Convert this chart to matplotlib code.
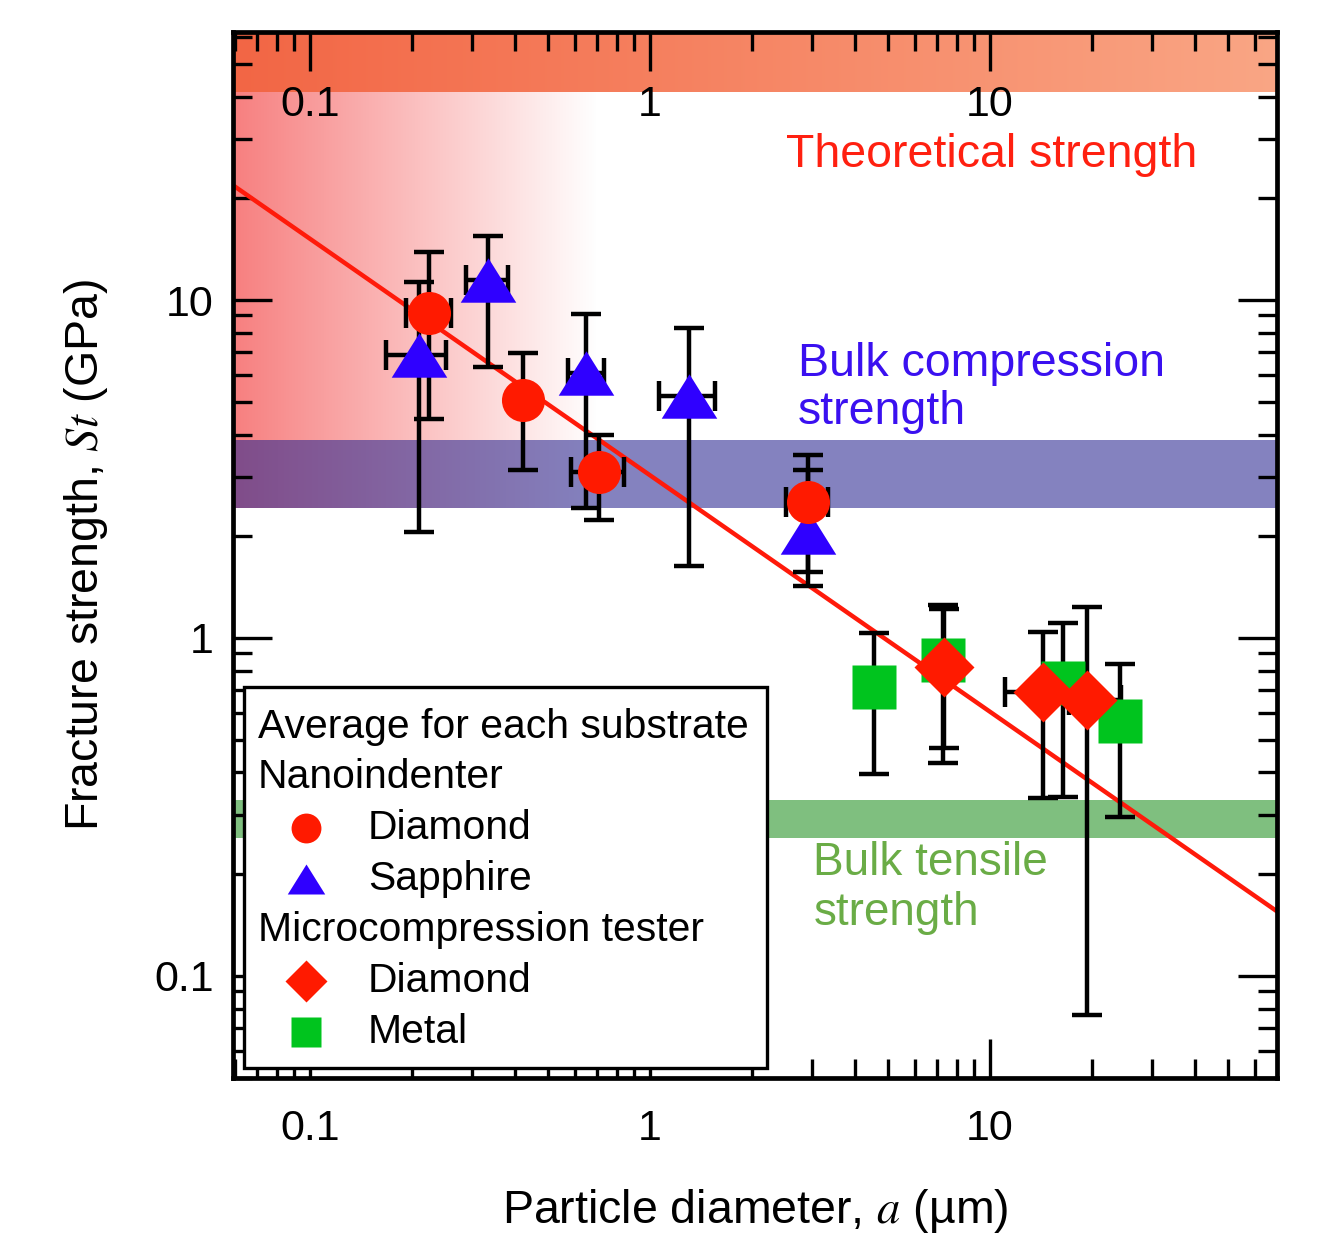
import numpy as np
import matplotlib
matplotlib.use('Agg')
import matplotlib.pyplot as plt
import matplotlib.transforms as mtransforms
from matplotlib.patches import Rectangle
from matplotlib.ticker import LogLocator, NullFormatter

plt.rcParams['font.family'] = ['Liberation Sans', 'DejaVu Sans']
plt.rcParams['mathtext.fontset'] = 'stix'

# Nanoindenter, diamond substrate
nd_a = [0.224, 0.423, 0.708, 2.92]
nd_st = [9.15, 5.06, 3.10, 2.53]
nd_st_lo = [4.45, 3.14, 2.23, 1.57]
nd_st_hi = [13.9, 6.97, 3.99, 3.48]
nd_a_lo = [0.1915, 0.423, 0.586, 2.51]
nd_a_hi = [0.260, 0.423, 0.839, 3.34]

# Nanoindenter, sapphire substrate
sp_a = [0.209, 0.334, 0.648, 1.30, 2.92]
sp_st = [6.88, 11.47, 6.08, 5.20, 2.06]
sp_st_lo = [2.06, 6.34, 2.42, 1.63, 1.425]
sp_st_hi = [11.3, 15.5, 9.09, 8.26, 3.14]
sp_a_lo = [0.167, 0.288, 0.574, 1.063, 2.92]
sp_a_hi = [0.251, 0.382, 0.732, 1.553, 2.92]

# Microcompression tester, diamond substrate
md_a = [7.32, 14.3, 19.3]
md_st = [0.821, 0.692, 0.655]
md_st_lo = [0.473, 0.336, 0.0767]
md_st_hi = [1.218, 1.042, 1.235]
md_a_lo = [7.32, 11.1, 17.1]
md_a_hi = [7.32, 18.4, 24.3]

# Microcompression tester, metal substrate
mt_a = [4.56, 7.27, 16.4, 24.1]
mt_st = [0.716, 0.861, 0.736, 0.568]
mt_st_lo = [0.396, 0.427, 0.338, 0.295]
mt_st_hi = [1.035, 1.252, 1.108, 0.838]

# fitted power law (end points)
fit_a = [0.06, 70.0]
fit_st = [21.7, 0.155]

# reference strength bands (GPa)
theory_lo = 41.2
compression_band = [2.43, 3.86]
tensile_band = [0.256, 0.332]
red_fade_end = 0.7

xlim = (0.0594, 69.8)
ylim = (0.0499, 62.1)
tick_vals = [0.1, 1, 10]
tick_labels = ['0.1', '1', '10']

RED = '#ff1a00'
BLUE = '#2f00ff'
GREEN = '#00c41e'


def xfrac(v):
    return (np.log10(v) - np.log10(xlim[0])) / (np.log10(xlim[1]) - np.log10(xlim[0]))


def yfrac(v):
    return (np.log10(v) - np.log10(ylim[0])) / (np.log10(ylim[1]) - np.log10(ylim[0]))


fig = plt.figure(figsize=(13.24, 12.34), dpi=100)
ax = fig.add_axes([0.176, 0.1264, 0.7885, 0.8477])
ax.set_xscale('log')
ax.set_yscale('log')
ax.set_xlim(xlim)
ax.set_ylim(ylim)
ax.autoscale(False)

# theoretical strength band (horizontal gradient)
n = 256
t = np.linspace(0, 1, n)[None, :, None]
c0 = np.array([0.95, 0.40, 0.27])
c1 = np.array([0.98, 0.65, 0.52])
band = c0 * (1 - t) + c1 * t
ax.imshow(band, extent=(0, 1, yfrac(theory_lo), 1), transform=ax.transAxes,
          aspect='auto', interpolation='bilinear', zorder=0.4)

# red fade on the small-particle side
fade = np.zeros((1, n, 4))
fade[..., 0] = 0.97
fade[..., 1] = 0.50
fade[..., 2] = 0.50
fade[..., 3] = np.linspace(1, 0, n)
ax.imshow(fade, extent=(0, xfrac(red_fade_end), yfrac(compression_band[0]), yfrac(theory_lo)),
          transform=ax.transAxes, aspect='auto', interpolation='bilinear', zorder=0.5)

ax.axhspan(compression_band[0], compression_band[1], color=(0.17, 0.155, 0.57), alpha=0.58, lw=0, zorder=1)
ax.axhspan(tensile_band[0], tensile_band[1], color='#7fbf7f', lw=0, zorder=1)

# fit line
ax.plot(fit_a, fit_st, color='#ff1a0a', lw=3.2, zorder=2.5)


def err(v, lo, hi):
    v, lo, hi = np.array(v), np.array(lo), np.array(hi)
    return [v - lo, hi - v]


eb = dict(fmt='none', ecolor='k', elinewidth=3.2, capsize=11, capthick=3.2, zorder=3)
ax.errorbar(mt_a, mt_st, yerr=err(mt_st, mt_st_lo, mt_st_hi), **eb)
ax.errorbar(md_a, md_st, yerr=err(md_st, md_st_lo, md_st_hi), xerr=err(md_a, md_a_lo, md_a_hi), **eb)
ax.errorbar(sp_a, sp_st, yerr=err(sp_st, sp_st_lo, sp_st_hi), xerr=err(sp_a, sp_a_lo, sp_a_hi), **eb)
ax.errorbar(nd_a, nd_st, yerr=err(nd_st, nd_st_lo, nd_st_hi), xerr=err(nd_a, nd_a_lo, nd_a_hi), **eb)

tri = [(-1, -0.8), (1, -0.8), (0, 0.8)]
ax.plot(mt_a, mt_st, ls='none', marker='s', ms=32, color=GREEN, mec='none', zorder=4)
ax.plot(md_a, md_st, ls='none', marker='D', ms=31, color=RED, mec='none', zorder=4.1)
ax.plot(sp_a, sp_st, ls='none', marker=tri, ms=40, color=BLUE, mec='none', zorder=4.2)
ax.plot(nd_a, nd_st, ls='none', marker='o', ms=31, color=RED, mec='none', zorder=4.3)

# ticks
ax.set_xticks(tick_vals)
ax.set_xticklabels(tick_labels)
ax.set_yticks(tick_vals)
ax.set_yticklabels(tick_labels)
for axis in (ax.xaxis, ax.yaxis):
    axis.set_minor_locator(LogLocator(base=10, subs=np.arange(2, 10)))
    axis.set_minor_formatter(NullFormatter())
ax.tick_params(which='both', direction='in', top=True, right=True, width=2.4, labelsize=31)
ax.tick_params(which='major', length=28)
ax.tick_params(which='minor', length=14)
ax.tick_params(axis='x', pad=22)
ax.tick_params(axis='y', pad=14)
for s in ax.spines.values():
    s.set_linewidth(3.4)
    s.set_zorder(6)

# inner top labels
blend = mtransforms.blended_transform_factory(ax.transData, ax.transAxes)
for v, lab in zip(tick_vals, tick_labels):
    ax.text(v, 0.930, lab, transform=blend, ha='center', va='center', fontsize=31, zorder=6)

ax.set_xlabel('Particle diameter, $a$ (µm)', fontsize=33.5, labelpad=28)
ax.set_ylabel('Fracture strength, $St$ (GPa)', fontsize=33.5, labelpad=32)

# band annotations
ax.text(2.51, 26.8, 'Theoretical strength', color='#ff2010', fontsize=33.5, ha='left', va='center', zorder=6)
ax.text(2.72, 5.49, 'Bulk compression\nstrength', color='#3a10f0', fontsize=33.5, ha='left', va='center',
        linespacing=1.1, zorder=6)
ax.text(3.02, 0.182, 'Bulk tensile\nstrength', color='#6aac46', fontsize=33, ha='left', va='center',
        linespacing=1.2, zorder=6)

# legend box drawn by hand
ax.add_patch(Rectangle((0.0105, 0.0096), 0.501, 0.3642, transform=ax.transAxes,
                       facecolor='white', edgecolor='black', lw=2.4, zorder=5))
rows = [
    ('Average for each substrate', None),
    ('Nanoindenter', None),
    ('Diamond', dict(marker='o', ms=21.5, color=RED)),
    ('Sapphire', dict(marker=tri, ms=27, color=BLUE)),
    ('Microcompression tester', None),
    ('Diamond', dict(marker='D', ms=21, color=RED)),
    ('Metal', dict(marker='s', ms=21.5, color=GREEN)),
]
row_y = [0.3356, 0.2878, 0.2390, 0.1902, 0.1415, 0.0927, 0.0440]
for (lab, mk), y in zip(rows, row_y):
    if mk is None:
        ax.text(0.024, y, lab, transform=ax.transAxes, fontsize=29.4, va='center', ha='left', zorder=6)
    else:
        ax.plot([0.070], [y], transform=ax.transAxes, ls='none', mec='none', zorder=6, clip_on=False, **mk)
        ax.text(0.1293, y, lab, transform=ax.transAxes, fontsize=29.4, va='center', ha='left', zorder=6)

fig.savefig('out.png', dpi=100)
